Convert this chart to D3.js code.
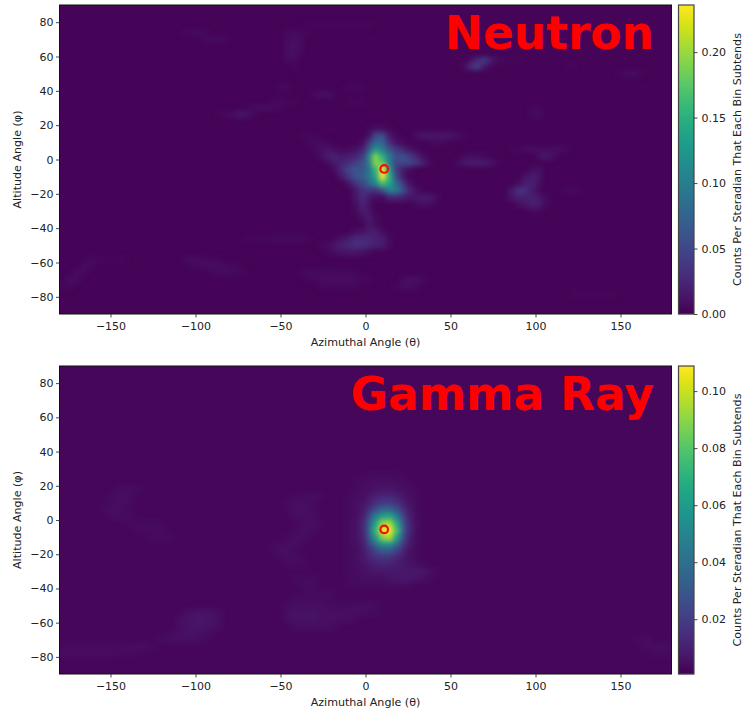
<!DOCTYPE html>
<html>
<head>
<meta charset="utf-8">
<script src="https://d3js.org/d3.v7.min.js"></script>
<style>
    body { margin: 0; background: white; }
    text { font-family: "DejaVu Sans", sans-serif; fill: #222; }
</style>
</head>
<body>
<div class="chart"></div>
<script>
// Heatmap cells on a 4 degree grid.
// Each row: [lat of cell bottom, lon of first cell left, value x 1000, next cell...]
var neutronBackground = 2;
var neutronRows = [
    [76, -36, 4, 4, 5, 5, 5, 5, 5, 5, 4, 4],
    [72, -108, 5, 7, 7, 5], [68, -96, 6, 7, 7, 5],
    [72, -48, 5, 6, 5, 4],
    [68, -48, 7, 9, 6], [64, -48, 8, 9, 6], [60, -48, 8, 9, 5], [56, -48, 6, 7], [52, -44, 5],
    [56, 60, 10, 26, 42, 18, 6, 5, 4, 4], [52, 56, 8, 30, 42, 14, 5],
    [52, 116, 4, 5], [48, 148, 5, 8, 8, 4],
    [40, -52, 6, 6], [40, -12, 5, 6, 4],
    [36, -32, 6, 10, 9, 4], [32, -56, 5, 6, 5, 4], [32, -12, 4, 4, 4],
    [28, -68, 7, 9, 9, 6, 5], [28, 96, 5, 5],
    [24, -88, 4, 6, 9, 14, 12, 5], [24, 96, 6, 8],
    [16, 0, 5, 8, 7, 4],
    [12, -40, 4, 4, 4], [12, 0, 10, 50, 55, 14, 5], [12, 28, 9, 14, 14, 12, 14, 14, 9, 5],
    [8, -36, 5, 6, 7, 4], [8, -4, 8, 40, 75, 75, 30, 10, 6], [8, 36, 5, 7, 5],
    [4, -32, 5, 9, 12, 8, 5, 6, 10, 22, 65, 125, 100, 60, 36, 24, 12, 6],
    [4, 84, 4, 5, 8, 9, 8, 7, 8, 9, 5],
    [0, -28, 9, 18, 22, 16, 18, 24, 40, 110, 190, 150, 95, 55, 60, 42, 24, 9],
    [0, 56, 7, 9, 8, 5], [0, 100, 8, 15, 9],
    [-4, -24, 8, 16, 22, 30, 42, 60, 95, 195, 175, 95, 48, 50, 52, 38, 20, 6],
    [-4, 52, 8, 15, 18, 18, 18, 12, 5],
    [-8, -20, 9, 26, 48, 60, 60, 90, 155, 245, 130, 38, 18, 8], [-8, 96, 8, 11],
    [-12, -16, 16, 36, 60, 70, 92, 140, 260, 150, 52, 15], [-12, 92, 12, 17, 12],
    [-16, -12, 12, 32, 50, 75, 110, 165, 140, 80, 40, 12], [-16, 88, 9, 18, 20, 10],
    [-20, -8, 14, 32, 36, 32, 55, 100, 95, 58, 24, 10], [-20, 84, 15, 34, 30, 14, 6], [-20, 116, 5, 7, 4],
    [-24, -8, 12, 28, 14, 8, 6, 24, 24, 20, 13, 13, 18, 15, 7], [-24, 84, 12, 20, 19, 20, 14, 6],
    [-28, -8, 8, 22, 11], [-28, 28, 7, 9, 7], [-28, 88, 8, 15, 20, 17, 7],
    [-32, -8, 6, 17, 13], [-32, 96, 6, 6],
    [-36, -4, 10, 17, 7],
    [-40, 0, 15, 8],
    [-44, -8, 8, 11, 17, 17, 8],
    [-48, -72, 4, 5, 5, 5, 6, 6, 6, 6, 6, 5], [-48, -20, 6, 10, 17, 26, 28, 24, 22, 17, 6],
    [-52, -28, 5, 8, 14, 20, 25, 30, 28, 24, 20, 17, 6],
    [-56, -24, 5, 8, 11, 12, 12, 10, 6],
    [-60, -108, 5, 8, 7, 5, 5, 4], [-60, -164, 7, 5, 5, 4, 4, 4],
    [-64, -104, 5, 7, 8, 8, 8, 7, 5, 4], [-64, -168, 8, 7],
    [-68, -92, 5, 6, 7, 6, 5, 4], [-68, -40, 5, 6, 7, 7, 7, 6, 5, 5, 4], [-68, -172, 8, 7],
    [-72, -36, 4, 5, 7, 8, 8, 8, 8, 7, 6, 5], [-72, -176, 8, 7], [-72, 20, 7, 10, 9, 5],
    [-76, -28, 5, 5, 5, 5, 5, 4], [-76, -180, 5, 5], [-76, 16, 5, 8, 8, 5],
    [-80, 120, 4, 4, 4, 4, 4, 4, 4]
];

var gammaBackground = 2.5;
var gammaRows = [
    [24, -8, 3, 3.5, 3.5, 4, 4, 4, 3.5, 3.5],
    [20, -8, 3.5, 4, 4.5, 5, 5, 5, 4.5, 4, 3.5],
    [16, -12, 3, 3.5, 4.5, 5, 6, 7, 7, 6, 5, 4.5, 3.5],
    [16, -148, 4, 4.5, 4.5, 4],
    [12, -12, 3.5, 4, 5, 7, 10, 12, 12, 10, 7, 5, 3.5],
    [12, -44, 4, 4, 4.5, 4.5, 4],
    [12, -152, 4, 4.5, 4.5, 4],
    [8, -12, 3.5, 4.5, 6, 9, 14, 18, 19, 15, 10, 6, 4],
    [8, -48, 4, 4.5, 4.5, 4.5, 4],
    [8, -152, 4, 4.5, 4.5, 4],
    [4, -12, 3.5, 4.5, 7, 15, 26, 35, 36, 27, 15, 8, 4],
    [4, -48, 4, 4.5, 5, 4.5, 4],
    [4, -156, 4, 4.5, 4.5, 4],
    [0, -12, 3.5, 5, 9, 24, 46, 64, 66, 48, 24, 10, 4.5],
    [0, -44, 4.5, 4.5, 4.5, 4.5],
    [0, -152, 4, 4.5, 4.5, 4],
    [-4, -12, 4, 5.5, 11, 32, 64, 92, 96, 68, 32, 12, 5],
    [-4, -40, 4, 4.5, 4.5, 4],
    [-4, -140, 4, 4, 4, 4, 4],
    [-8, -12, 4, 5.5, 11, 34, 72, 108, 118, 78, 34, 12, 5],
    [-8, -44, 4, 4.5, 4.5, 4],
    [-8, -136, 4, 4, 4, 4, 4],
    [-12, -12, 4, 5.5, 10, 29, 60, 88, 96, 62, 28, 10, 4.5],
    [-12, -48, 4, 4.5, 4.5, 4],
    [-12, -128, 4, 4, 4, 3.5],
    [-16, -12, 3.5, 5, 9, 21, 40, 56, 58, 40, 19, 8, 4],
    [-16, -56, 4, 4, 4.5, 4.5, 4],
    [-20, -12, 3.5, 4.5, 7.5, 14, 23, 31, 31, 22, 12, 6, 3.5],
    [-20, -56, 4, 4.5, 4.5, 4],
    [-24, -12, 3.5, 4.5, 7, 11, 15, 17, 16, 12, 8, 5.5, 3.5],
    [-24, -52, 4, 4.5, 4.5, 4],
    [-28, -12, 3.5, 4.5, 6, 8, 10, 11, 10, 9, 7, 6, 5, 4],
    [-28, -48, 4, 4, 4, 4],
    [-32, -12, 3.5, 4, 5, 6, 7, 7.5, 7.5, 7.5, 7.5, 7.5, 7.5, 6.5, 5, 4],
    [-36, -12, 3.5, 4, 4.5, 5, 5, 5, 6, 7, 7.5, 7.5, 6.5, 5, 4],
    [-36, -44, 4, 4, 4, 4],
    [-40, -12, 3.5, 4, 4, 4, 4, 4, 4.5, 5, 5, 4],
    [-40, -40, 4, 4, 4],
    [-44, -36, 4, 4, 4, 4, 3.5],
    [-48, -44, 4, 4, 4, 4, 4, 4],
    [-52, -48, 4.5, 5, 5, 5, 5, 4.5, 4, 4, 4, 4, 4.5, 4.5, 4.5, 4],
    [-56, -108, 4.5, 5.5, 6, 6, 5.5, 4.5],
    [-56, -48, 5, 5.5, 5.5, 5.5, 5.5, 5, 5, 5, 4.5, 4.5, 4.5, 4.5, 4, 4],
    [-60, -112, 4.5, 5.5, 6.5, 7, 6.5, 6, 4.5],
    [-60, -48, 5, 5.5, 5.5, 5.5, 5.5, 5, 5, 5, 4.5, 4.5, 4],
    [-64, -112, 4.5, 5.5, 6.5, 6.5, 6, 5.5, 4.5],
    [-64, -44, 4.5, 5, 5, 5, 5, 4.5, 4],
    [-68, -116, 4, 5, 5.5, 5.5, 5, 4.5, 4],
    [-72, -124, 4, 4.5, 4.5, 5, 5, 5, 4.5, 4],
    [-72, 156, 4, 4, 4.5],
    [-76, -180, 4, 4, 4, 4, 4, 4, 4, 4, 4, 4, 4.5, 4.5, 4.5, 4],
    [-76, 160, 4, 4.5, 4.5, 4.5, 4.5],
    [-80, -180, 4.5, 4.5, 4.5, 4.5, 4.5, 4.5, 4.5, 4.5, 4, 4, 4, 3.5],
    [-80, 168, 4, 4, 4]
];

var sourcePosition = [11, -5.5];

var xTicks = [-150, -100, -50, 0, 50, 100, 150];
var yTicks = [-80, -60, -40, -20, 0, 20, 40, 60, 80];
var neutronColorDomain = [0, 0.236];
var neutronColorTicks = [0, 0.05, 0.10, 0.15, 0.20];
var gammaColorDomain = [0.0008, 0.1088];
var gammaColorTicks = [0.02, 0.04, 0.06, 0.08, 0.10];

var svgWidth = 742;
var svgHeight = 712;
var cellSize = 4;

var svg = d3.select(".chart")
    .append("svg")
    .attr("width", svgWidth)
    .attr("height", svgHeight)
    .style("display", "block");

function styleAxis(axisGroup) {
    axisGroup.select(".domain").remove();
    axisGroup.selectAll("line").attr("stroke", "#333").attr("stroke-width", 0.9);
    axisGroup.selectAll("text").attr("font-size", 11).style("fill", "#222");
}

function drawPanel(id, top, bottom, title, rows, background, colorDomain, colorTicks) {
    var left = 59.5, right = 671.5;
    var xScale = d3.scaleLinear().domain([-180, 180]).range([left, right]);
    var yScale = d3.scaleLinear().domain([-90, 90]).range([bottom, top]);
    var color = d3.scaleSequential(d3.interpolateViridis).domain(colorDomain);

    var defs = svg.append("defs");
    defs.append("clipPath").attr("id", "clip" + id)
        .append("rect")
        .attr("x", left).attr("y", top)
        .attr("width", right - left).attr("height", bottom - top);
    defs.append("filter").attr("id", "smooth" + id)
        .attr("filterUnits", "userSpaceOnUse")
        .attr("x", left - 20).attr("y", top - 20)
        .attr("width", right - left + 40).attr("height", bottom - top + 40)
        .attr("color-interpolation-filters", "sRGB")
        .append("feGaussianBlur").attr("stdDeviation", 2.8);

    var cells = rows.flatMap(r => r.slice(2).map((v, i) => ({
        lat: r[0],
        lon: r[1] + i * cellSize,
        value: v / 1000
    })));

    var plot = svg.append("g").attr("clip-path", `url(#clip${id})`);

    plot.append("rect")
        .attr("x", left).attr("y", top)
        .attr("width", right - left).attr("height", bottom - top)
        .attr("fill", color(background / 1000));

    plot.append("g")
        .attr("filter", `url(#smooth${id})`)
        .selectAll("rect")
        .data(cells)
        .enter()
        .append("rect")
        .attr("x", d => xScale(d.lon))
        .attr("y", d => yScale(d.lat + cellSize))
        .attr("width", d => xScale(d.lon + cellSize) - xScale(d.lon))
        .attr("height", d => yScale(d.lat) - yScale(d.lat + cellSize))
        .attr("shape-rendering", "crispEdges")
        .attr("fill", d => color(d.value));

    svg.append("circle")
        .attr("cx", xScale(sourcePosition[0]))
        .attr("cy", yScale(sourcePosition[1]))
        .attr("r", 3.8)
        .attr("fill", "none")
        .attr("stroke", "#f01010")
        .attr("stroke-width", 2.2);

    svg.append("text")
        .attr("x", 654)
        .attr("y", top + 44)
        .attr("text-anchor", "end")
        .attr("font-size", 45.5)
        .attr("font-weight", "bold")
        .style("fill", "#ff0000")
        .text(title);

    svg.append("rect")
        .attr("x", left).attr("y", top)
        .attr("width", right - left).attr("height", bottom - top)
        .attr("fill", "none").attr("stroke", "#111").attr("stroke-width", 1);

    svg.append("g")
        .attr("transform", `translate(0, ${bottom})`)
        .call(d3.axisBottom(xScale).tickValues(xTicks).tickSize(3.5).tickPadding(4.7))
        .call(styleAxis);

    svg.append("g")
        .attr("transform", `translate(${left}, 0)`)
        .call(d3.axisLeft(yScale).tickValues(yTicks).tickSize(3.5).tickPadding(2.5))
        .call(styleAxis);

    svg.append("text")
        .attr("x", (left + right) / 2)
        .attr("y", bottom + 32)
        .attr("text-anchor", "middle")
        .attr("font-size", 11.1)
        .text("Azimuthal Angle (θ)");

    svg.append("text")
        .attr("transform", `translate(21, ${(top + bottom) / 2}) rotate(-90)`)
        .attr("text-anchor", "middle")
        .attr("font-size", 11.1)
        .text("Altitude Angle (φ)");

    // colorbar
    var barLeft = 678.5, barRight = 694;
    var barScale = d3.scaleLinear().domain(colorDomain).range([bottom, top]);
    var barSteps = d3.range(0, bottom - top);

    svg.append("g")
        .selectAll("rect")
        .data(barSteps)
        .enter()
        .append("rect")
        .attr("x", barLeft)
        .attr("y", d => top + d)
        .attr("width", barRight - barLeft)
        .attr("height", 1.2)
        .attr("fill", d => color(barScale.invert(top + d + 0.5)));

    svg.append("rect")
        .attr("x", barLeft).attr("y", top)
        .attr("width", barRight - barLeft).attr("height", bottom - top)
        .attr("fill", "none").attr("stroke", "#444").attr("stroke-width", 1.2);

    svg.append("g")
        .attr("transform", `translate(${barRight}, 0)`)
        .call(d3.axisRight(barScale).tickValues(colorTicks).tickFormat(d3.format(".2f")).tickSize(3.5).tickPadding(4))
        .call(styleAxis);

    svg.append("text")
        .attr("transform", `translate(740.5, ${(top + bottom) / 2}) rotate(-90)`)
        .attr("text-anchor", "middle")
        .attr("font-size", 11.1)
        .text("Counts Per Steradian That Each Bin Subtends");
}

drawPanel("Neutron", 5, 314, "Neutron", neutronRows, neutronBackground, neutronColorDomain, neutronColorTicks);
drawPanel("Gamma", 366, 674, "Gamma Ray", gammaRows, gammaBackground, gammaColorDomain, gammaColorTicks);
</script>
</body>
</html>
